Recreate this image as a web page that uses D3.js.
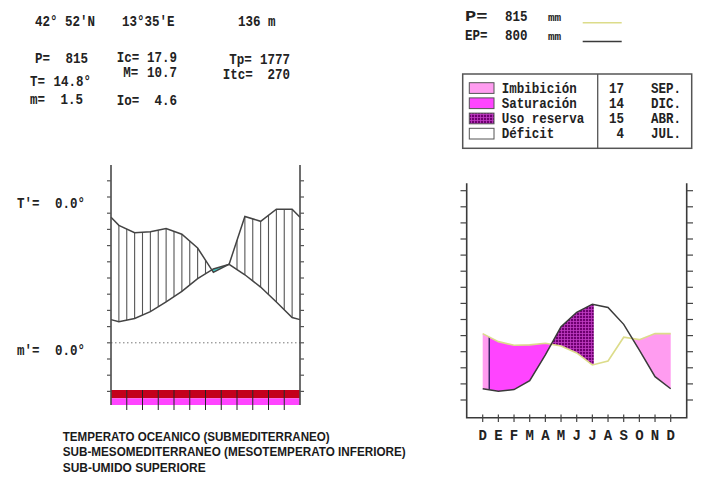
<!DOCTYPE html>
<html><head><meta charset="utf-8">
<script src="https://cdn.jsdelivr.net/npm/d3@7"></script>
<style>body{margin:0;background:#fff}svg{display:block}</style>
</head><body>
<svg id="c" width="722" height="486"></svg>
<script>
// ---------- DATA ----------
const monthsLeft = ["J","F","M","A","M","J","J","A","S","O","N","D"];
const precip = [72.5, 68, 68.5, 70.5, 67, 58.5, 43.5, 48.5, 78, 75, 82.5, 82.5];   // mm, Jan..Dec
const temp   = [6.5, 7.5, 9.6, 12.6, 15.9, 19.8, 22.8, 24.2, 21.0, 17.2, 12.6, 7.8]; // °C, Jan..Dec
const etp    = [11, 13, 24, 56, 91, 109, 119, 115, 94, 62, 29, 14];                // mm, Jan..Dec
const balanceAxis = ["D","E","F","M","A","M","J","J","A","S","O","N","D"];
const frostRowTop    = ["red","red","red","red","red","red","red","red","red","red","red","red"];
const frostRowBottom = ["mag","mag","mag","mag","mag","mag","mag","mag","mag","mag","mag","mag"];
const phaseNames  = ["Imbibición","Saturación","Uso reserva","Déficit"];
const phaseDays   = [17, 14, 15, 4];
const phaseMonths = ["SEP.","DIC.","ABR.","JUL."];
const headerTexts = ["42° 52'N", "13°35'E", "136 m"];
const indexLabels = ["P=","T=","m=","Ic=","M=","Io=","Tp=","Itc="];
const indexValues = ["815","14.8°","1.5","17.9","10.7","4.6","1777","270"];
const extremeLabels = ["T'=","m'="];
const extremeValues = ["0.0°","0.0°"];
const totalsLabels = [" P=","EP="];
const totalsValues = ["815","800"];
const bioclimate = ["TEMPERATO OCEANICO (SUBMEDITERRANEO)",
                    "SUB-MESOMEDITERRANEO (MESOTEMPERATO INFERIORE)",
                    "SUB-UMIDO SUPERIORE"];

// ---------- SETUP ----------
const svg = d3.select("#c");
const MONO = "'Liberation Mono', 'DejaVu Sans Mono', monospace";
const CW = 7.5;
function mono(x, y, s, anchor) {
  return svg.append("text").attr("x", x).attr("y", y)
    .attr("font-family", MONO).attr("font-weight", "bold")
    .attr("font-size", 14).attr("fill", "#222")
    .attr("text-anchor", anchor || "start")
    .attr("textLength", s.length * CW)
    .attr("lengthAdjust", "spacingAndGlyphs")
    .text(s);
}
const defs = svg.append("defs");
const pat = defs.append("pattern").attr("id", "uso").attr("patternUnits", "userSpaceOnUse")
  .attr("width", 3).attr("height", 3);
pat.append("rect").attr("width", 3).attr("height", 3).attr("fill", "#6e0070");
pat.append("path").attr("d", "M0 0.5H3M0.5 0V3").attr("stroke", "#c23cc4").attr("stroke-width", 0.8);

// ---------- HEADER TEXTS ----------
const hx = [35, 122, 238];
headerTexts.forEach((s, i) => mono(hx[i], 26.3, s));
const lblPos = [[35,63],[30,86.3],[30,104],[116.7,62.3],[123.3,77.3],[116.7,104.6],[229.3,64],[222.7,78.6]];
const valEnd = [88, 91, 83, 177, 177, 177, 290, 290];
indexLabels.forEach((s, i) => {
  mono(lblPos[i][0], lblPos[i][1], s);
  mono(valEnd[i], lblPos[i][1], indexValues[i], "end");
});
const exY = [208, 354.6];
extremeLabels.forEach((s, i) => { mono(17, exY[i], s); mono(55, exY[i], extremeValues[i]); });

// ---------- LEFT CHART (ombrothermic) ----------
const xL = d3.scaleLinear().domain([0, 12]).range([111, 300]);
const yT = d3.scaleLinear().domain([0, 50]).range([342.8, 180.8]);
const yP = d3.scaleLinear().domain([0, 100]).range([342.8, 180.8]);
function wrapVal(arr, u) {           // values at month centres, circular
  const ext = [arr[11], ...arr, arr[0]];
  const k = Math.max(0, Math.min(12.999, u + 0.5));
  const i = Math.floor(k), t = k - i;
  return ext[i] * (1 - t) + ext[i + 1] * t;
}
const knotU = [0, ...monthsLeft.map((m, i) => i + 0.5), 12];
const dense = d3.range(0, 12.0001, 0.05);

svg.append("path")
  .attr("d", d3.area().x(u => xL(u))
    .y0(u => yT(wrapVal(temp, u)))
    .y1(u => Math.max(yT(wrapVal(temp, u)), yP(wrapVal(precip, u))))(dense))
  .attr("fill", "#3fcfc6");

d3.range(1, 24).forEach(k => {
  const u = k / 2;
  const yp = yP(wrapVal(precip, u)), yt = yT(wrapVal(temp, u));
  if (yp < yt - 0.5) {
    svg.append("line").attr("x1", xL(u)).attr("x2", xL(u)).attr("y1", yp).attr("y2", yt)
      .attr("stroke", "#555").attr("stroke-width", 1.1);
  }
});
svg.append("line").attr("x1", xL(0)).attr("x2", xL(12)).attr("y1", yT(0)).attr("y2", yT(0))
  .attr("stroke", "#777").attr("stroke-width", 1).attr("stroke-dasharray", "1.5,2.5");
svg.append("path").attr("d", d3.line().x(u => xL(u)).y(u => yP(wrapVal(precip, u)))(knotU))
  .attr("fill", "none").attr("stroke", "#444").attr("stroke-width", 1.5);
svg.append("path").attr("d", d3.line().x(u => xL(u)).y(u => yT(wrapVal(temp, u)))(knotU))
  .attr("fill", "none").attr("stroke", "#444").attr("stroke-width", 1.5);

const barColor = {red: "#c3001c", mag: "#ff45ff"};
monthsLeft.forEach((m, i) => {
  svg.append("rect").attr("x", xL(i)).attr("width", xL(i + 1) - xL(i)).attr("y", 390).attr("height", 8.3)
    .attr("fill", barColor[frostRowTop[i]]);
  svg.append("rect").attr("x", xL(i)).attr("width", xL(i + 1) - xL(i)).attr("y", 398.3).attr("height", 6.7)
    .attr("fill", barColor[frostRowBottom[i]]);
});
d3.range(1, 12).forEach(i => {
  svg.append("line").attr("x1", xL(i)).attr("x2", xL(i)).attr("y1", 390).attr("y2", 410)
    .attr("stroke", "#222").attr("stroke-width", 1);
});
[xL(0), xL(12)].forEach(x => svg.append("line").attr("x1", x).attr("x2", x).attr("y1", 165).attr("y2", 405)
  .attr("stroke", "#4a4a4a").attr("stroke-width", 1.6));
d3.range(-15, 51, 5).forEach(v => {
  svg.append("line").attr("x1", xL(0) - 4).attr("x2", xL(0)).attr("y1", yT(v)).attr("y2", yT(v))
    .attr("stroke", "#555").attr("stroke-width", 1.2);
  svg.append("line").attr("x1", xL(12)).attr("x2", xL(12) + 4).attr("y1", yT(v)).attr("y2", yT(v))
    .attr("stroke", "#555").attr("stroke-width", 1.2);
});

// ---------- RIGHT CHART (water balance) ----------
const xR = d3.scaleLinear().domain([0, 12]).range([482.7, 670.7]);
const yR = d3.scaleLinear().domain([0, 260]).range([400, 190.7]);
const pS = [precip[11], ...precip];
const eS = [etp[11], ...etp];
function lin(arr, u) {
  const i = Math.max(0, Math.min(11, Math.floor(u))), t = u - i;
  return arr[i] * (1 - t) + arr[i + 1] * t;
}
const monAbbr = ["ENE.","FEB.","MAR.","ABR.","MAY.","JUN.","JUL.","AGO.","SEP.","OCT.","NOV.","DIC."];
const mDays = [31,28,31,30,31,30,31,31,30,31,30,31];
function posOf(day, mon) {
  const m = monAbbr.indexOf(mon) + 1;
  return (m === 12 ? 0 : m) + (day - 1) / mDays[m - 1];
}
const phaseFill = {"Imbibición": "#ff9cf0", "Saturación": "#ff44ff", "Uso reserva": "url(#uso)", "Déficit": "#ffffff"};
const starts = phaseNames.map((n, i) => ({name: n, pos: posOf(phaseDays[i], phaseMonths[i])}))
  .sort((a, b) => a.pos - b.pos);
const intervals = [{name: starts[starts.length - 1].name, a: 0, b: starts[0].pos}];
starts.forEach((s, j) => intervals.push({name: s.name, a: s.pos, b: j < starts.length - 1 ? starts[j + 1].pos : 12}));
const areaR = d3.area().x(u => xR(u)).y0(u => yR(lin(eS, u))).y1(u => yR(lin(pS, u)));
intervals.forEach(iv => {
  const pts = [iv.a, ...d3.range(Math.floor(iv.a) + 1, Math.ceil(iv.b)), iv.b];
  svg.append("path").attr("d", areaR(pts)).attr("fill", phaseFill[iv.name]);
});
const satPos = starts.find(s => s.name === "Saturación").pos;
svg.append("line").attr("x1", xR(satPos)).attr("x2", xR(satPos))
  .attr("y1", yR(lin(pS, satPos))).attr("y2", yR(lin(eS, satPos)))
  .attr("stroke", "#3d2266").attr("stroke-width", 1.5);
const knotR = d3.range(0, 13);
svg.append("path").attr("d", d3.line().x(u => xR(u)).y(u => yR(pS[u]))(knotR))
  .attr("fill", "none").attr("stroke", "#dcdc8a").attr("stroke-width", 1.6);
svg.append("path").attr("d", d3.line().x(u => xR(u)).y(u => yR(eS[u]))(knotR))
  .attr("fill", "none").attr("stroke", "#3a3a3a").attr("stroke-width", 1.5);
svg.append("path").attr("d", `M466.7,183.3V417.7H686.7V183.3`).attr("fill", "none")
  .attr("stroke", "#3a3a3a").attr("stroke-width", 1.6);
d3.range(0, 261, 20).forEach(v => {
  svg.append("line").attr("x1", 460.5).attr("x2", 466.7).attr("y1", yR(v)).attr("y2", yR(v))
    .attr("stroke", "#444").attr("stroke-width", 1.2);
  svg.append("line").attr("x1", 686.7).attr("x2", 693).attr("y1", yR(v)).attr("y2", yR(v))
    .attr("stroke", "#444").attr("stroke-width", 1.2);
});
balanceAxis.forEach((m, i) => {
  svg.append("line").attr("x1", xR(i)).attr("x2", xR(i)).attr("y1", 414.5).attr("y2", 422)
    .attr("stroke", "#444").attr("stroke-width", 1.2);
  svg.append("text").attr("x", xR(i)).attr("y", 440).attr("text-anchor", "middle")
    .attr("font-family", MONO).attr("font-weight", "bold").attr("font-size", 14).attr("fill", "#222").text(m);
});

// ---------- TOTALS + LEGEND ----------
const totY = [21.3, 40];
const lineCol = ["#dcdc8a", "#3a3a3a"];
totalsLabels.forEach((s, i) => {
  mono(465, totY[i], s);
  mono(505, totY[i], totalsValues[i]);
  svg.append("text").attr("x", 548).attr("y", totY[i]).attr("font-family", MONO)
    .attr("font-weight", "bold").attr("font-size", 11).attr("fill", "#222").text("mm");
  svg.append("line").attr("x1", 582.7).attr("x2", 621.7).attr("y1", totY[i] + 1.5).attr("y2", totY[i] + 1.5)
    .attr("stroke", lineCol[i]).attr("stroke-width", 1.5);
});
svg.append("rect").attr("x", 462.7).attr("y", 74).attr("width", 229).attr("height", 74.3)
  .attr("fill", "none").attr("stroke", "#555").attr("stroke-width", 1.5);
svg.append("line").attr("x1", 597.7).attr("x2", 597.7).attr("y1", 74).attr("y2", 148.3)
  .attr("stroke", "#555").attr("stroke-width", 1.3);
phaseNames.forEach((n, i) => {
  const top = 82.7 + i * 15.2;
  svg.append("rect").attr("x", 469.3).attr("y", top).attr("width", 24.7).attr("height", 10.7)
    .attr("fill", phaseFill[n]).attr("stroke", "#555").attr("stroke-width", 1);
  const by = top + 5.35 + 4.6;
  mono(501.7, by, n);
  mono(624, by, String(phaseDays[i]), "end");
  mono(681, by, phaseMonths[i], "end");
});

// ---------- BIOCLIMATE TEXT ----------
const bioW = [267, 343, 143];
const bioY = [440.5, 456, 471.5];
bioclimate.forEach((s, i) => {
  svg.append("text").attr("x", 62.7).attr("y", bioY[i])
    .attr("font-family", "'Liberation Sans', Arial, sans-serif").attr("font-size", 13)
    .attr("font-weight", "bold").attr("fill", "#1a1a1a")
    .attr("textLength", bioW[i]).attr("lengthAdjust", "spacingAndGlyphs")
    .text(s);
});
</script>
</body></html>
